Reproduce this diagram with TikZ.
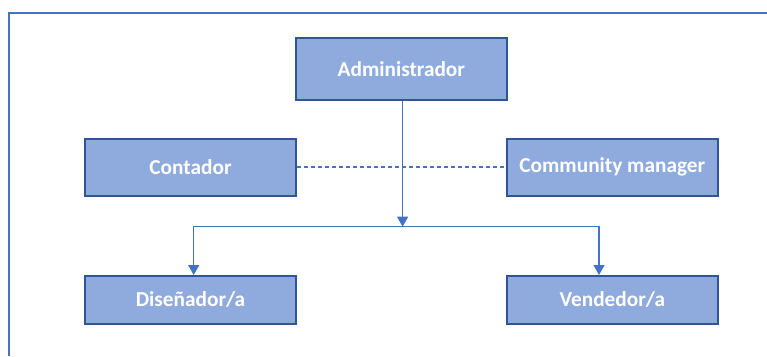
\documentclass[tikz,border=0pt]{standalone}
\usepackage{fontspec}
\setmainfont{Carlito}
\usetikzlibrary{arrows.meta}
\definecolor{boxfill}{HTML}{8FAADC}
\definecolor{boxline}{HTML}{2F5597}
\definecolor{linkblue}{HTML}{4472C4}
\begin{document}
\begin{tikzpicture}[x=1pt, y=-1pt,
        role/.style={draw=boxline, line width=2pt, fill=boxfill, text=white,
            font=\fontsize{21.3}{24}\selectfont\bfseries, inner sep=0pt, minimum width=211pt},
        link/.style={draw=linkblue, line width=1.2pt, -{Triangle[width=11pt,length=10pt]}}]
        \useasboundingbox (0,0) rectangle (767,356);
        \draw[linkblue, line width=2pt] (8.5,356) -- (8.5,13) -- (767,13);
        \node[role, minimum height=62pt] (admin) at (401.3,69) {Administrador};
        \node[role, minimum height=57pt] (contador) at (190.5,167) {Contador};
        \node[role, minimum height=57pt] (community) at (612.3,167) {Community manager};
        \node[role, minimum height=48pt] (disenador) at (190.5,300) {Diseñador/a};
        \node[role, minimum height=48pt] (vendedor) at (612.3,300) {Vendedor/a};
        \coordinate (split) at (402.6,226.7);
        \draw[link] ([xshift=1.3pt]admin.south) -- (split);
        \draw[link] (split) -| ([xshift=3.2pt]disenador.north);
        \draw[link] (split) -| ([xshift=-13.3pt]vendedor.north);
        \draw[linkblue, line width=1.2pt, dash pattern=on 4pt off 3pt] (contador.east) -- (community.west);
    \end{tikzpicture}
\end{document}
